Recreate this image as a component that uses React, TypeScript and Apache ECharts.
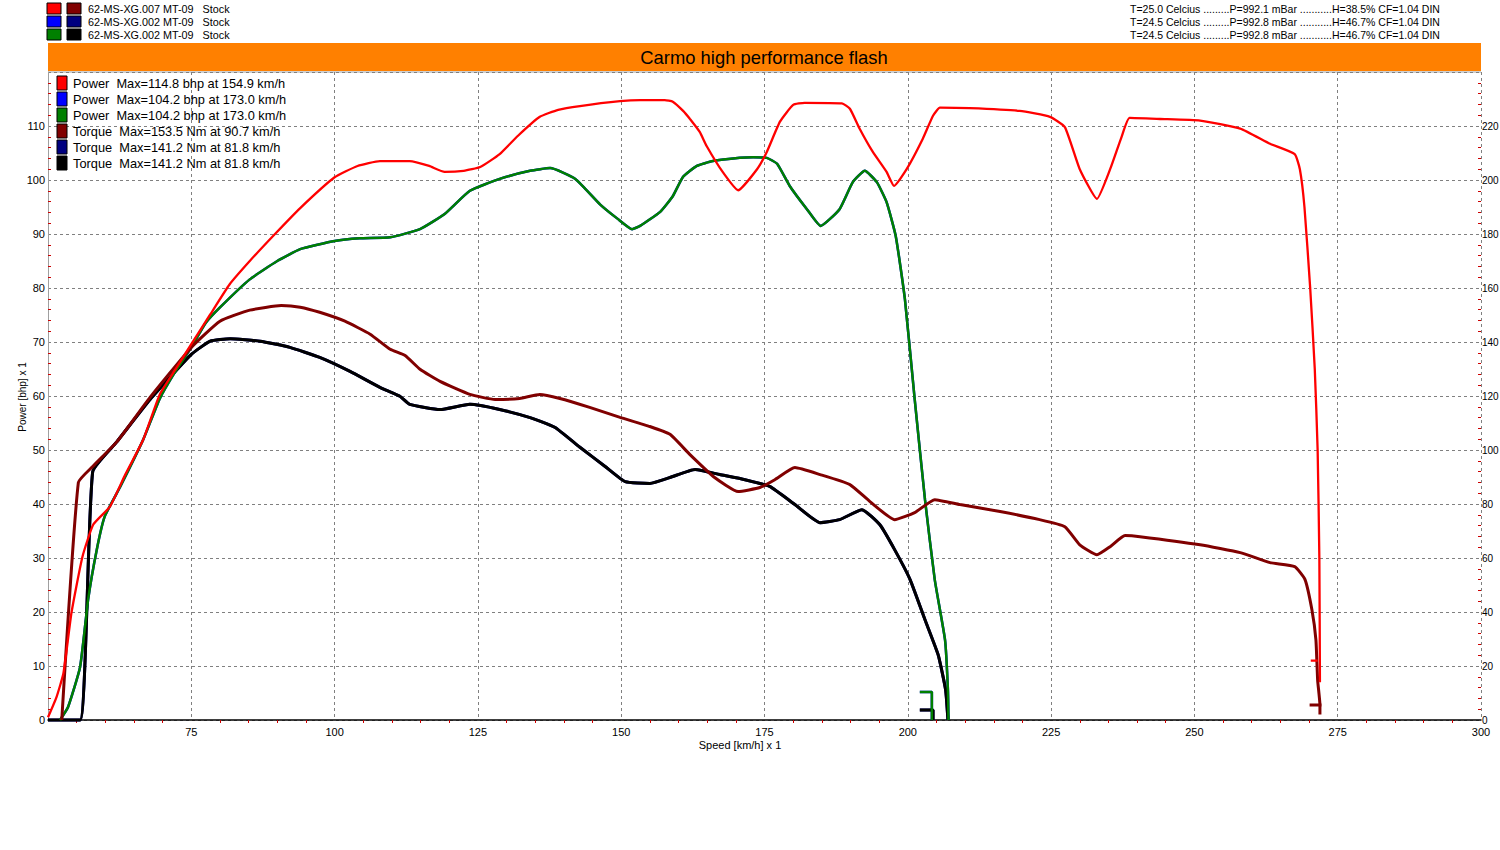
import React, { useEffect, useRef } from "react";
import * as echarts from "echarts";

const FONT = "Liberation Sans, Arial, sans-serif";

const chartTitle = "Carmo high performance flash";
const runLabels = ["62-MS-XG.007 MT-09   Stock", "62-MS-XG.002 MT-09   Stock", "62-MS-XG.002 MT-09   Stock"];
const runConditions = [
  "T=25.0 Celcius .........P=992.1 mBar ...........H=38.5% CF=1.04 DIN",
  "T=24.5 Celcius .........P=992.8 mBar ...........H=46.7% CF=1.04 DIN",
  "T=24.5 Celcius .........P=992.8 mBar ...........H=46.7% CF=1.04 DIN",
];
const legendLabels = [
  "Power  Max=114.8 bhp at 154.9 km/h",
  "Power  Max=104.2 bhp at 173.0 km/h",
  "Power  Max=104.2 bhp at 173.0 km/h",
  "Torque  Max=153.5 Nm at 90.7 km/h",
  "Torque  Max=141.2 Nm at 81.8 km/h",
  "Torque  Max=141.2 Nm at 81.8 km/h",
];
const powerColors = ["#ff0000", "#0000ff", "#008000"];
const torqueColors = ["#800000", "#000080", "#000000"];

// speed range (km/h) and scales
const speedMin = 50;
const speedMax = 300;
const powerMax = 120;
const torqueMax = 240;

// Run 1 power (bhp) vs speed (km/h)
const run1Power: (number | null)[][] = [
  [50.0, 0.5], [51.5, 4.3], [52.7, 8.7], [54.1, 19.9], [56.0, 30.2], [57.9, 36.2], [60.8, 39.5],
  [63.5, 45.5], [66.6, 51.9], [69.5, 60.3], [72.2, 64.9], [75, 69.6], [78.3, 75.1], [81.7, 80.7],
  [85.2, 85], [89.6, 90], [94, 94.8], [100, 100.5], [104, 102.6], [107.9, 103.5], [113.1, 103.5],
  [116.5, 102.6], [119.2, 101.5], [122.5, 101.7], [125.4, 102.4], [128.8, 104.8], [132, 108.2],
  [135.8, 111.7], [139, 113], [142.8, 113.7], [149.8, 114.6], [153.3, 114.8], [157.6, 114.8],
  [159, 114.5], [160.8, 112.8], [162, 111.3], [163.7, 108.9], [164.9, 106.3], [167.7, 101.5],
  [170.4, 98.1], [173.7, 102], [175.4, 105.2], [177.7, 110.8], [180, 113.9], [182, 114.3],
  [188.5, 114.2], [189.9, 113.2], [191.6, 109.5], [193.9, 105.2], [196.3, 101.5], [197.6, 98.9],
  [199.8, 102], [202.6, 107.6], [204.4, 111.9], [205.6, 113.4], [210.8, 113.3], [219.5, 112.8],
  [224.8, 111.7], [227.4, 109.8], [230, 102], [233, 96.5], [235.3, 102], [237.3, 108],
  [238.7, 111.5], [244, 111.3], [251, 111], [258, 109.5], [263.2, 106.7], [267.5, 104.8],
  [268.4, 102], [269.2, 95], [270.2, 80], [271.0, 65], [271.5, 50], [271.8, 30], [271.9, 7],
  [271.9, null], [270.3, 11], [271.5, 11],
];

// Run 3 power (bhp) vs speed (km/h)
const run3Power: (number | null)[][] = [
  [52.1, 0], [53.5, 2.4], [55.6, 9.8], [57, 22.3], [58.5, 31.5], [59.9, 37.7], [62.6, 43.2],
  [66.6, 51.9], [69.5, 59.5], [72.2, 64.5], [75, 69], [77.5, 73.5], [80, 76.4], [85.2, 81.6],
  [90, 85], [94, 87.2], [100, 88.7], [104.4, 89.2], [109.7, 89.4], [114.9, 90.9], [119.2, 93.7],
  [123.6, 98], [128.8, 100.2], [134.1, 101.7], [137.6, 102.2], [142, 100.2], [146.3, 95.5],
  [149.4, 92.8], [151.9, 90.9], [153.3, 91.5], [156.8, 94.1], [159, 97], [160.8, 100.6],
  [163.2, 102.6], [166, 103.5], [170.7, 104.1], [173, 104.2], [175.4, 104.1], [177.2, 103],
  [179.4, 98.9], [182.4, 94.6], [184.8, 91.5], [188.1, 94.6], [190.4, 99.6], [192.5, 101.7],
  [194.6, 99.6], [196.3, 95.9], [197.9, 89.6], [199.5, 77.9], [201.2, 59.4], [203, 40.8],
  [204.7, 26], [206.5, 14.8], [207, 5.6], [207.1, 0], [207.1, null],
  [202.1, 5.2], [204.2, 5.2], [204.2, 0],
];
const run2Power = run3Power;

// Run 1 torque (Nm) vs speed (km/h)
const run1Torque: (number | null)[][] = [
  [52.4, 0], [55.3, 88], [57.8, 93.9], [62, 103], [67.8, 119.5], [75, 138], [80, 147.7],
  [85.2, 151.8], [90.7, 153.5], [94, 152.9], [97.4, 151], [101.8, 147.7], [106.2, 142.9],
  [109.7, 137.3], [112.3, 135], [114.9, 129.9], [118.4, 125.4], [123.6, 120.6], [128, 118.7],
  [132.3, 119.1], [135.8, 120.6], [139.3, 119.1], [144.5, 115.8], [149.8, 112.1], [155, 108.7],
  [158.5, 105.8], [162, 98.3], [166.3, 89.8], [170.4, 84.6], [174.2, 86.1], [176.8, 89],
  [180.3, 93.5], [184.7, 90.9], [189.9, 87.2], [193.4, 80.9], [197.7, 74.2], [201.2, 76.8],
  [204.7, 81.6], [209.1, 79.8], [216.1, 77.2], [223, 74.2], [227.4, 71.6], [230, 64.9],
  [233, 61.2], [235.3, 64.2], [237.9, 68.3], [240.5, 67.9], [251, 64.9], [258, 62], [263.2, 58.3],
  [267.5, 56.8], [269.3, 52], [270.5, 40.8], [271.2, 29.7], [271.5, 14.8], [271.9, 5.6], [271.9, 2],
  [271.9, null], [270.1, 5.6], [272.2, 5.6],
];

// Run 3 torque (Nm) vs speed (km/h)
const run3Torque: (number | null)[][] = [
  [50, 0], [55.6, 0], [57.8, 92], [62, 103], [67.8, 118.7], [75, 135.4], [78.3, 140.3],
  [81.8, 141.2], [87, 140.3], [92.2, 138], [97.4, 134.3], [102.7, 129.1], [107.9, 123.2],
  [111.4, 119.9], [113.1, 116.9], [118.4, 115], [123.6, 116.9], [128.8, 115], [134.1, 112],
  [138.4, 108.4], [142.8, 101], [147.2, 93.9], [150.7, 88.3], [155, 87.6], [158.5, 89.8],
  [162.9, 92.8], [167.2, 90.9], [171.6, 89], [175.9, 86.5], [180.3, 79.8], [184.7, 73.1],
  [188.1, 74.2], [192, 77.9], [195.1, 72.4], [197.7, 63.1], [200.4, 52], [203, 37.1],
  [205.3, 24.1], [206.6, 11.1], [207, 0], [207, null], [202.1, 3.7], [204.4, 3.7], [204.4, 0],
];
const run2Torque = run3Torque;

export default function App() {
  const ref = useRef<HTMLDivElement>(null);

  useEffect(() => {
    document.body.style.margin = "0";
    if (!ref.current) return;
    const chart = echarts.init(ref.current, undefined, { renderer: "svg" });

    const gridLeft = 48;
    const gridRight = 1481;
    const gridTop = 72;
    const gridBottom = 720;

    const graphic: any[] = [];
    // top-left run list
    runLabels.forEach((lbl, i) => {
      const y = 3 + i * 13;
      graphic.push({ type: "rect", shape: { x: 47, y, width: 14, height: 11 }, style: { fill: powerColors[i], stroke: "#000", lineWidth: 1 } });
      graphic.push({ type: "rect", shape: { x: 67, y, width: 14, height: 11 }, style: { fill: torqueColors[i], stroke: "#000", lineWidth: 1 } });
      graphic.push({ type: "text", x: 88, y: y + 6, style: { text: lbl, font: `10.8px ${FONT}`, fill: "#000", verticalAlign: "middle" } });
    });
    // top-right conditions
    runConditions.forEach((t, i) => {
      graphic.push({ type: "text", x: 1130, y: 9 + i * 13, style: { text: t, font: `10.5px ${FONT}`, fill: "#000", verticalAlign: "middle" } });
    });
    // title band
    graphic.push({ type: "rect", shape: { x: gridLeft, y: 43, width: gridRight - gridLeft, height: 28 }, style: { fill: "#ff8000" } });
    graphic.push({ type: "text", x: 764, y: 57, style: { text: chartTitle, font: `18.4px ${FONT}`, fill: "#000", align: "center", verticalAlign: "middle" } });
    // top border of plot
    graphic.push({ type: "line", shape: { x1: gridLeft, y1: gridTop, x2: gridRight, y2: gridTop }, style: { stroke: "#a0a0a0", lineWidth: 1 } });
    // inner legend
    const legendColors = [...powerColors, ...torqueColors];
    legendLabels.forEach((lbl, i) => {
      const y = 76 + i * 16;
      graphic.push({ type: "rect", z: 100, shape: { x: 57, y, width: 10, height: 14 }, style: { fill: legendColors[i], stroke: "#000", lineWidth: 1 } });
      graphic.push({ type: "text", z: 100, x: 73, y: y + 7, style: { text: lbl, font: `12.8px ${FONT}`, fill: "#000", verticalAlign: "middle" } });
    });
    // axis names
    graphic.push({ type: "text", x: 22, y: 397, rotation: Math.PI / 2, style: { text: "Power [bhp] x 1", font: `10px ${FONT}`, fill: "#000", align: "center", verticalAlign: "middle" } });
    graphic.push({ type: "text", x: 740, y: 745, style: { text: "Speed [km/h] x 1", font: `11px ${FONT}`, fill: "#000", align: "center", verticalAlign: "middle" } });

    const lineSeries = (name: string, data: any, color: string, width: number, yAxisIndex: number) => ({
      name,
      type: "line",
      data,
      yAxisIndex,
      showSymbol: false,
      symbol: "none",
      connectNulls: false,
      smooth: 0.15,
      lineStyle: { color, width },
      itemStyle: { color },
      clip: false,
    });

    chart.setOption({
      animation: false,
      backgroundColor: "#ffffff",
      textStyle: { fontFamily: FONT },
      grid: {
        left: gridLeft,
        right: 1500 - gridRight,
        top: gridTop,
        bottom: 850 - gridBottom,
        containLabel: false,
        outerBoundsMode: "none",
      },
      xAxis: {
        type: "value",
        min: speedMin,
        max: speedMax,
        interval: 25,
        axisLine: { show: true, onZero: false, lineStyle: { color: "#000", width: 1.5 } },
        axisTick: { show: false },
        minorTick: { show: true, splitNumber: 5, length: 3, lineStyle: { color: "#cc0000", width: 1 } },
        axisLabel: { showMinLabel: false, color: "#000", fontSize: 11, fontFamily: FONT, margin: 6 },
        splitLine: { show: true, lineStyle: { color: "#808080", type: [3, 3], width: 1 } },
      },
      yAxis: [
        {
          type: "value",
          min: 0,
          max: powerMax,
          interval: 10,
          position: "left",
          axisLine: { show: true, lineStyle: { color: "#a0a0a0", width: 1 } },
          axisTick: { show: false, inside: true },
          minorTick: { show: true, splitNumber: 5, length: 3, lineStyle: { color: "#cc0000", width: 1 } },
          axisLabel: { showMaxLabel: false, color: "#000", fontSize: 11, fontFamily: FONT, margin: 3 },
          splitLine: { show: true, lineStyle: { color: "#808080", type: [3, 3], width: 1 } },
        },
        {
          type: "value",
          min: 0,
          max: torqueMax,
          interval: 20,
          position: "right",
          axisLine: { show: false },
          axisTick: { show: false, inside: true },
          minorTick: { show: true, splitNumber: 5, length: 3, lineStyle: { color: "#cc0000", width: 1 } },
          axisLabel: { showMaxLabel: false, color: "#000", fontSize: 10, fontFamily: FONT, margin: 1 },
          splitLine: { show: false },
        },
      ],
      graphic,
      series: [
        lineSeries("Torque run 2", run2Torque, torqueColors[1], 3, 1),
        lineSeries("Power run 2", run2Power, powerColors[1], 2.5, 0),
        lineSeries("Torque run 3", run3Torque, torqueColors[2], 3, 1),
        lineSeries("Power run 3", run3Power, powerColors[2], 2.5, 0),
        lineSeries("Torque run 1", run1Torque, torqueColors[0], 3, 1),
        lineSeries("Power run 1", run1Power, powerColors[0], 2.3, 0),
      ],
    });

    return () => chart.dispose();
  }, []);

  return <div ref={ref} style={{ position: "absolute", left: 0, top: 0, width: 1500, height: 850 }} />;
}
